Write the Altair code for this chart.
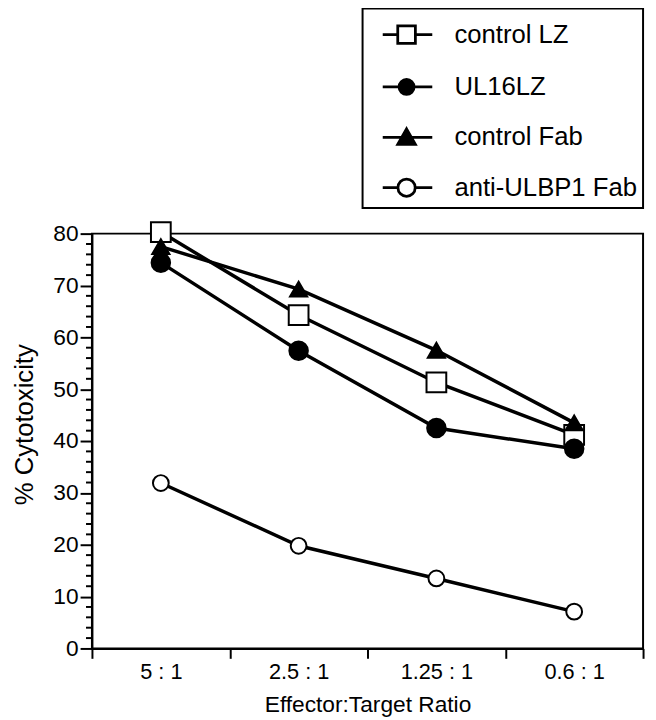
import altair as alt
import pandas as pd

ratios = ["5 : 1", "2.5 : 1", "1.25 : 1", "0.6 : 1"]
series_names = ["control LZ", "UL16LZ", "control Fab", "anti-ULBP1 Fab"]
control_lz = [80.3, 64.3, 51.3, 41.2]
ul16lz = [74.4, 57.4, 42.5, 38.5]
control_fab = [77.5, 69.3, 57.5, 43.5]
anti_ulbp1_fab = [31.9, 19.8, 13.5, 7.1]
y_major_ticks = [0, 10, 20, 30, 40, 50, 60, 70, 80]
y_minor_ticks = [2, 4, 6, 8, 12, 14, 16, 18, 22, 24, 26, 28, 32, 34, 36, 38,
                 42, 44, 46, 48, 52, 54, 56, 58, 62, 64, 66, 68, 72, 74, 76, 78]

marker_shapes = ["square", "circle", "triangle-up", "circle"]
marker_fills = ["white", "black", "black", "white"]
marker_sizes = [400, 256, 324, 289]
legend_paths = [
    "M-0.32,0H0.48M1.42,0H2.32M0.48,-0.47H1.42V0.47H0.48Z",
    "M-0.32,0H2.32M0.55,0A0.4,0.4 0 1,0 1.35,0A0.4,0.4 0 1,0 0.55,0Z",
    "M-0.32,0H2.32M0.95,-0.45L1.42,0.38L0.48,0.38Z",
    "M-0.32,0H0.49M1.41,0H2.32M0.49,0A0.46,0.46 0 1,0 1.41,0A0.46,0.46 0 1,0 0.49,0Z",
]

FONT = "Liberation Sans"

rows = []
for name, vals in zip(series_names, [control_lz, ul16lz, control_fab, anti_ulbp1_fab]):
    for i, (r, v) in enumerate(zip(ratios, vals)):
        rows.append({"series": name, "ratio": r, "value": v, "idx": i})
df = pd.DataFrame(rows)
minor_df = pd.DataFrame({"value": y_minor_ticks})

x_enc = alt.X(
    "ratio:N",
    scale=alt.Scale(type="band", domain=ratios, paddingInner=0, paddingOuter=0),
    axis=alt.Axis(
        title="Effector:Target Ratio", labelAngle=0, tickBand="extent",
        tickSize=10, tickWidth=2, domainWidth=2, domainColor="black", tickColor="black",
        labelFont=FONT, labelFontSize=22, labelColor="black", labelPadding=3,
        titleFont=FONT, titleFontSize=23, titleFontWeight="normal", titleColor="black",
        titlePadding=12,
    ),
)
y_enc = alt.Y(
    "value:Q",
    scale=alt.Scale(domain=[0, 80], nice=False, zero=True),
    axis=alt.Axis(
        title="% Cytotoxicity", values=y_major_ticks, grid=False,
        tickSize=12, tickWidth=2, domainWidth=2, domainColor="black", tickColor="black",
        labelFont=FONT, labelFontSize=23, labelColor="black", labelPadding=2,
        titleFont=FONT, titleFontSize=26, titleFontWeight="normal", titleColor="black",
        titlePadding=16, titleY=193,
    ),
)

lines = alt.Chart(df).mark_line(color="black", strokeWidth=3.5).encode(
    x=x_enc, y=y_enc, detail="series:N", order=alt.Order("idx:Q")
)

points = alt.Chart(df).mark_point(
    filled=True, opacity=1, stroke="black", strokeWidth=2
).encode(
    x=x_enc, y=y_enc,
    shape=alt.Shape("series:N", scale=alt.Scale(domain=series_names, range=marker_shapes), legend=None),
    fill=alt.Fill("series:N", scale=alt.Scale(domain=series_names, range=marker_fills), legend=None),
    size=alt.Size("series:N", scale=alt.Scale(domain=series_names, range=marker_sizes), legend=None),
)

leg = alt.Legend(
    title=None, orient="none", legendX=274, legendY=-228, direction="vertical",
    symbolSize=1444, symbolStrokeWidth=2.8, labelLimit=400,
    labelFont=FONT, labelFontSize=26, labelColor="black", labelOffset=46,
    rowPadding=17, padding=6, strokeColor="black",
)
legend_layer = alt.Chart(df).transform_filter("datum.value < -1").mark_point(
    filled=False, opacity=1, color="black", strokeWidth=2.8
).encode(
    x=x_enc, y=y_enc,
    shape=alt.Shape("series:N", scale=alt.Scale(domain=series_names, range=legend_paths), legend=leg),
    fill=alt.Fill("series:N", scale=alt.Scale(domain=series_names, range=marker_fills), legend=leg),
)

minor = alt.Chart(minor_df).mark_rule(color="black", strokeWidth=2).encode(
    y=alt.Y("value:Q"),
    x=alt.value(-6),
    x2=alt.value(0),
)

chart = alt.layer(lines, points, legend_layer, minor).resolve_scale(
    shape="independent", fill="independent"
).properties(
    width=558, height=420,
    autosize=alt.AutoSizeParams(type="none"),
    padding={"left": 85, "top": 224, "right": 5, "bottom": 68},
).configure_view(
    stroke="black", strokeWidth=2
).configure_legend(
    strokeWidth=2
)

chart.save("out.html", embed_options={"renderer": "svg", "actions": False})
